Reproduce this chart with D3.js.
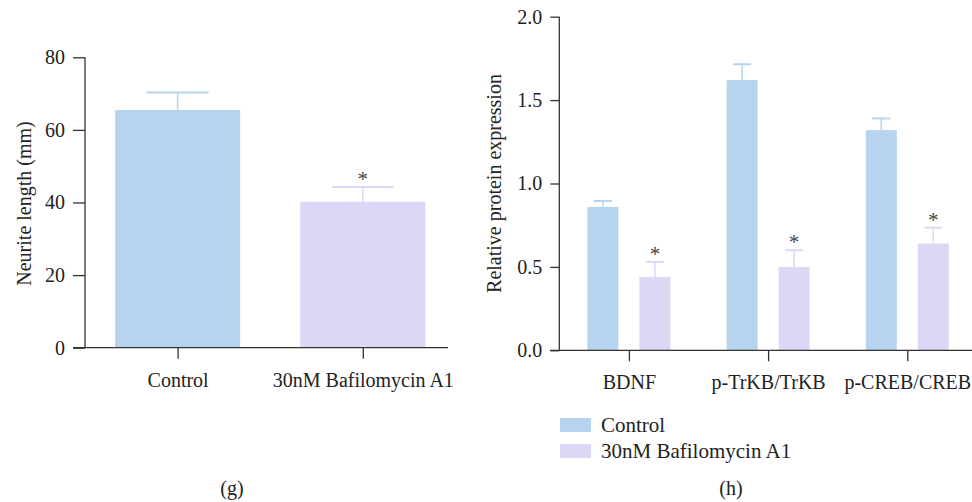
<!DOCTYPE html>
<html>
<head>
<meta charset="utf-8">
<script src="https://cdn.jsdelivr.net/npm/d3@7"></script>
<style>
  body { margin: 0; background: #fff; }
  svg text { font-family: "Liberation Serif", "Times New Roman", serif !important; fill: #222; }
</style>
</head>
<body>
<script>
const W = 972, H = 502;

// (g) neurite length
const gCats = ["Control", "30nM Bafilomycin A1"];
const gMeans = [65.5, 40.2];
const gErr = [4.8, 4.1];
const gStars = ["", "*"];
const gTicks = [0, 20, 40, 60, 80];

// (h) relative protein expression
const hCats = ["BDNF", "p-TrKB/TrKB", "p-CREB/CREB"];
const hSeries = ["Control", "30nM Bafilomycin A1"];
const hControl = [0.86, 1.62, 1.32];
const hControlErr = [0.035, 0.095, 0.07];
const hBafilo = [0.44, 0.50, 0.64];
const hBafiloErr = [0.09, 0.10, 0.095];
const hTicks = [0, 0.5, 1.0, 1.5, 2.0];

const colors = ["#b7d4ee", "#ddd7f5"];
const axisColor = "#333";
const fs = 20;

const svg = d3.select("body").append("svg").attr("width", W).attr("height", H);

function styleAxis(g) {
  g.attr("font-family", null).attr("font-size", null);
  g.selectAll("path,line").attr("stroke", axisColor).attr("stroke-width", 1.3);
  g.selectAll("text").attr("font-size", fs).attr("fill", "#222");
}

// ---------- panel g ----------
const yG = d3.scaleLinear().domain([0, 80]).range([347.7, 57.3]);
const xG = d3.scalePoint().domain(gCats).range([85, 455.4]).padding(0.5);
const gBarW = 125;

const pg = svg.append("g");
pg.selectAll("rect.bar").data(gMeans).enter().append("rect")
  .attr("x", (d, i) => xG(gCats[i]) - gBarW / 2)
  .attr("y", d => yG(d))
  .attr("width", gBarW)
  .attr("height", d => yG(0) - yG(d))
  .attr("fill", (d, i) => colors[i]);

pg.selectAll("line.err").data(gMeans).enter().append("line")
  .attr("x1", (d, i) => xG(gCats[i])).attr("x2", (d, i) => xG(gCats[i]))
  .attr("y1", d => yG(d)).attr("y2", (d, i) => yG(d + gErr[i]))
  .attr("stroke", (d, i) => colors[i]).attr("stroke-width", 1.5);
pg.selectAll("line.cap").data(gMeans).enter().append("line")
  .attr("x1", (d, i) => xG(gCats[i]) - 31).attr("x2", (d, i) => xG(gCats[i]) + 31)
  .attr("y1", (d, i) => yG(d + gErr[i])).attr("y2", (d, i) => yG(d + gErr[i]))
  .attr("stroke", (d, i) => colors[i]).attr("stroke-width", 2);
pg.selectAll("text.star").data(gMeans).enter().append("text")
  .attr("x", (d, i) => xG(gCats[i]))
  .attr("y", (d, i) => yG(d + gErr[i]) - 1)
  .attr("text-anchor", "middle").attr("font-size", 21).style("fill", "#444")
  .text((d, i) => gStars[i]);

const gyAxis = pg.append("g").attr("transform", "translate(85,0)")
  .call(d3.axisLeft(yG).tickValues(gTicks).tickSize(12).tickPadding(8));
gyAxis.select(".domain").remove();
gyAxis.append("line").attr("x1", 0).attr("x2", 0).attr("y1", yG(80)).attr("y2", yG(0));
styleAxis(gyAxis);

const gxAxis = pg.append("g").attr("transform", `translate(0,${yG(0)})`)
  .call(d3.axisBottom(xG).tickSize(11).tickPadding(14));
gxAxis.select(".domain").remove();
gxAxis.append("line").attr("x1", 73).attr("x2", 448).attr("y1", 0).attr("y2", 0);
styleAxis(gxAxis);

pg.append("text")
  .attr("transform", `translate(31,${(yG(0) + yG(80)) / 2 + 1}) rotate(-90)`)
  .attr("text-anchor", "middle").attr("font-size", fs)
  .text("Neurite length (mm)");

svg.append("text").attr("x", 232).attr("y", 495).attr("text-anchor", "middle")
  .attr("font-size", fs).text("(g)");

// ---------- panel h ----------
const yH = d3.scaleLinear().domain([0, 2]).range([350.3, 16.7]);
const xH = d3.scalePoint().domain(hCats).range([559.3, 976.9]).padding(0.5);
const xSub = d3.scalePoint().domain(hSeries).range([-26, 26]);
const hBarW = 31;

const hData = [];
hCats.forEach((c, i) => {
  hData.push({ cat: c, s: hSeries[0], v: hControl[i], e: hControlErr[i], star: "" });
  hData.push({ cat: c, s: hSeries[1], v: hBafilo[i], e: hBafiloErr[i], star: "*" });
});
const color = d3.scaleOrdinal().domain(hSeries).range(colors);

const ph = svg.append("g");
ph.selectAll("rect.bar").data(hData).enter().append("rect")
  .attr("x", d => xH(d.cat) + xSub(d.s) - hBarW / 2)
  .attr("y", d => yH(d.v))
  .attr("width", hBarW)
  .attr("height", d => yH(0) - yH(d.v))
  .attr("fill", d => color(d.s));
ph.selectAll("line.err").data(hData).enter().append("line")
  .attr("x1", d => xH(d.cat) + xSub(d.s)).attr("x2", d => xH(d.cat) + xSub(d.s))
  .attr("y1", d => yH(d.v)).attr("y2", d => yH(d.v + d.e))
  .attr("stroke", d => color(d.s)).attr("stroke-width", 1.5);
ph.selectAll("line.cap").data(hData).enter().append("line")
  .attr("x1", d => xH(d.cat) + xSub(d.s) - 9).attr("x2", d => xH(d.cat) + xSub(d.s) + 9)
  .attr("y1", d => yH(d.v + d.e)).attr("y2", d => yH(d.v + d.e))
  .attr("stroke", d => color(d.s)).attr("stroke-width", 2);
ph.selectAll("text.star").data(hData).enter().append("text")
  .attr("x", d => xH(d.cat) + xSub(d.s))
  .attr("y", d => yH(d.v + d.e) - 1)
  .attr("text-anchor", "middle").attr("font-size", 21).style("fill", "#444")
  .text(d => d.star);

const hyAxis = ph.append("g").attr("transform", "translate(559.3,0)")
  .call(d3.axisLeft(yH).tickValues(hTicks).tickFormat(d3.format(".1f")).tickSize(9).tickPadding(8));
hyAxis.select(".domain").remove();
hyAxis.append("line").attr("x1", 0).attr("x2", 0).attr("y1", yH(2)).attr("y2", yH(0));
styleAxis(hyAxis);

const hxAxis = ph.append("g").attr("transform", `translate(0,${yH(0)})`)
  .call(d3.axisBottom(xH).tickSize(11).tickPadding(14));
hxAxis.select(".domain").remove();
hxAxis.append("line").attr("x1", 550).attr("x2", 972).attr("y1", 0).attr("y2", 0);
styleAxis(hxAxis);

ph.append("text")
  .attr("transform", `translate(501,${(yH(0) + yH(2)) / 2}) rotate(-90)`)
  .attr("text-anchor", "middle").attr("font-size", fs)
  .text("Relative protein expression");

// legend
const leg = svg.append("g").attr("transform", "translate(560,418)");
hSeries.forEach((s, i) => {
  leg.append("rect").attr("x", 0).attr("y", i * 26).attr("width", 31).attr("height", 14).attr("fill", color(s));
  leg.append("text").attr("x", 41).attr("y", i * 26 + 14).attr("font-size", 21).text(s);
});

svg.append("text").attr("x", 731).attr("y", 495).attr("text-anchor", "middle")
  .attr("font-size", fs).text("(h)");
</script>
</body>
</html>
